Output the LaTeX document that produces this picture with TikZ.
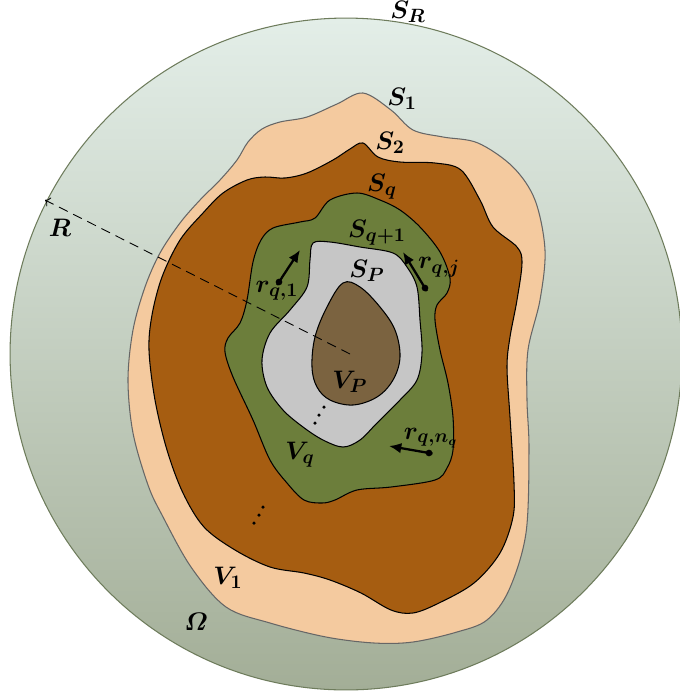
\documentclass[tikz,border=0pt]{standalone}
\usepackage{amsmath,amssymb,bm}
\usetikzlibrary{arrows.meta}
\definecolor{skytop}{HTML}{E3EEE8}
\definecolor{skybot}{HTML}{A3AE97}
\definecolor{rimgreen}{HTML}{6E7C5C}
\definecolor{peach}{HTML}{F4CA9F}
\definecolor{rust}{HTML}{A65D11}
\definecolor{moss}{HTML}{6C7E3B}
\definecolor{ash}{HTML}{C6C6C6}
\definecolor{core}{HTML}{7B6340}

\begin{document}
\begin{tikzpicture}[x=0.02cm,y=-0.02cm,font=\fontsize{15}{17}\selectfont,
  layer/.style={draw=black,line width=0.6pt},
  lbl/.style={inner sep=1pt},
  vec/.style={-{Latex[length=7pt,width=6pt]},line width=1.3pt,shorten <=-2pt},
  pt/.style={circle,fill,inner sep=0pt,minimum size=3.8pt}]
\useasboundingbox (0,0) rectangle (680,698);
\shade[top color=skytop,bottom color=skybot,draw=rimgreen,line width=0.6pt] (346,354) circle (6.72cm);
\draw[layer,draw=black!60,fill=peach] plot[smooth cycle,tension=0.55] coordinates {
  (363,93) (391,110) (413,130) (443,137) (478,143) (513,167) (535,200) (545,250)
  (540,300) (528,350) (527,400) (529,450) (526,533) (509,590) (487,620) (457,632)
  (413,642) (374,643) (326,637) (270,623) (226,607) (191,567) (162,515) (148,485)
  (133,433) (128,380) (133,330) (145,287) (160,253) (180,223) (200,200) (220,180)
  (237,160) (248,142) (262,129) (280,122) (307,117) (337,104)};
\draw[layer,fill=rust] plot[smooth cycle,tension=0.55] coordinates {
  (363,143) (378,157) (400,162) (435,163) (461,170) (480,200) (493,227) (517,247)
  (522,263) (517,300) (510,337) (507,367) (510,417) (514,483) (513,517) (500,553)
  (474,583) (439,603) (413,613) (391,610) (361,593) (330,580) (304,573) (270,567)
  (235,550) (204,527) (183,493) (167,450) (155,400) (149,350) (152,315) (162,277)
  (180,240) (203,213) (223,193) (247,180) (265,177) (285,178) (307,173) (333,160)
  (350,149)};
\draw[layer,fill=moss] plot[smooth cycle,tension=0.55] coordinates {
  (357,193) (380,200) (400,210) (420,227) (440,252) (450,278) (447,293) (437,305)
  (435,320) (440,350) (448,383) (453,417) (453,450) (447,468) (435,480) (391,487)
  (357,490) (335,500) (322,503) (304,500) (287,483) (270,460) (253,420) (233,377)
  (225,352) (228,338) (240,323) (247,300) (253,262) (261,240) (273,228) (300,222)
  (315,218) (330,200)};
\draw[layer,fill=ash] plot[smooth cycle,tension=0.55] coordinates {
  (313,243) (330,242) (360,247) (393,253) (407,267) (417,287) (420,320) (422,353)
  (417,380) (400,400) (377,423) (360,440) (343,447) (323,440) (303,427) (283,410)
  (267,387) (262,360) (270,333) (290,310) (307,287) (310,260)};
\draw[layer,fill=core] plot[smooth cycle,tension=0.6] coordinates {
  (343,283) (360,287) (380,307) (395,330) (400,357) (393,380) (377,397) (353,405)
  (330,400) (317,387) (312,367) (315,337) (327,307)};

\coordinate (ctr) at (350,354);
\coordinate (rim) at (45,200);
\draw[dash pattern=on 5.5pt off 3.5pt,->,line width=0.5pt] (ctr) -- (rim);

\node[lbl] (SR) at (408,12) {$\bm{S_R}$};
\node[lbl] (S1) at (402,99) {$\bm{S_1}$};
\node[lbl] (S2) at (390,143) {$\bm{S_2}$};
\node[lbl] (Sq) at (382,187) {$\bm{S_q}$};
\node[lbl] (Sq1) at (377,233) {$\bm{S_{q+1}}$};
\node[lbl] (SP) at (367,271) {$\bm{S_P}$};
\node[lbl] (VP) at (350,382) {$\bm{V_P}$};
\node[lbl] (Vq) at (300,455) {$\bm{V_q}$};
\node[lbl] (V1) at (228,578) {$\bm{V_1}$};
\node[lbl] (Om) at (196,622) {$\bm{\varOmega}$};
\node[lbl] (R) at (60,228) {$\bm{R}$};

\node[pt] (d1) at (279,282) {};
\node[pt] (dj) at (425,288) {};
\node[pt] (dn) at (429,453) {};
\coordinate (t1) at (300,250);
\coordinate (tj) at (403,252);
\coordinate (tn) at (389,446);
\draw[vec] (d1.center) -- (t1);
\draw[vec] (dj.center) -- (tj);
\draw[vec] (dn.center) -- (tn);
\node[lbl] (r1) at (277,291) {$\bm{r_{q,1}}$};
\node[lbl] (rj) at (439,267) {$\bm{r_{q,j}}$};
\node[lbl] (rn) at (431,438) {$\bm{r_{q,n_q}}$};

\foreach \x/\y in {324/407,319/415,315/423,263/507,259/515,254/523}
  \fill (\x,\y) circle (1pt);
\end{tikzpicture}
\end{document}
